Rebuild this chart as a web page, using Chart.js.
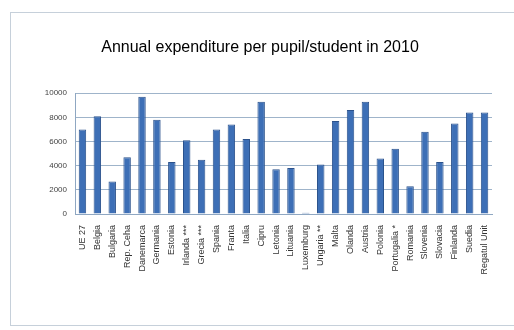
<!DOCTYPE html>
<html>
<head>
<meta charset="utf-8">
<script src="https://cdn.jsdelivr.net/npm/chart.js@4"></script>
<style>
    html, body { margin: 0; padding: 0; background: #fff; }
    #wrap { width: 514px; height: 330px; position: relative; }
</style>
</head>
<body>
<div id="wrap"><canvas id="chart" width="514" height="330"></canvas></div>
<script>
const countries = ['UE 27', 'Belgia', 'Bulgaria', 'Rep. Ceha', 'Danemarca', 'Germania', 'Estonia',
    'Irlanda ***', 'Grecia ***', 'Spania', 'Franta', 'Italia', 'Cipru', 'Letonia', 'Lituania',
    'Luxemburg', 'Ungaria **', 'Malta', 'Olanda', 'Austria', 'Polonia', 'Portugalia *', 'Romania',
    'Slovenia', 'Slovacia', 'Finlanda', 'Suedia', 'Regatul Unit'];

const expenditure = [7000, 8100, 2700, 4700, 9700, 7800, 4300,
    6100, 4500, 7000, 7400, 6200, 9300, 3700, 3800,
    100, 4100, 7700, 8600, 9300, 4600, 5400, 2300,
    6800, 4300, 7500, 8400, 8400];

const yTicks = [0, 2000, 4000, 6000, 8000, 10000];

// light frame around the whole chart, like the office chart border
const framePlugin = {
    id: 'frame',
    beforeDraw(chart) {
        const ctx = chart.ctx;
        ctx.save();
        ctx.strokeStyle = '#c6d0da';
        ctx.lineWidth = 1;
        ctx.strokeRect(10.5, 12.5, 510, 313);
        ctx.restore();
    }
};

const ctx = document.getElementById('chart');

new Chart(ctx, {
    type: 'bar',
    data: {
        labels: countries,
        datasets: [{
            label: 'Annual expenditure',
            data: expenditure,
            backgroundColor: '#3d6fb6',
            borderColor: '#2b528c',
            borderWidth: 1,
            barPercentage: 0.5,
            categoryPercentage: 1
        }]
    },
    options: {
        responsive: false,
        animation: false,
        layout: {
            padding: { left: 28, right: 22, top: 12, bottom: 16 }
        },
        plugins: {
            legend: { display: false },
            tooltip: { enabled: false },
            title: {
                display: true,
                text: 'Annual expenditure per pupil/student in 2010',
                color: '#000',
                font: { family: "'Liberation Sans', sans-serif", size: 16, weight: 'normal' },
                padding: { top: 26, bottom: 36 }
            }
        },
        scales: {
            x: {
                grid: { display: false },
                border: { color: '#8fa7c2' },
                ticks: {
                    autoSkip: false,
                    maxRotation: 90,
                    minRotation: 90,
                    color: '#333',
                    font: { family: "'Liberation Sans', sans-serif", size: 9 }
                },
                afterFit(scale) {
                    scale.height = 100;
                }
            },
            y: {
                min: 0,
                max: 10000,
                afterBuildTicks(scale) {
                    scale.ticks = yTicks.map(v => ({ value: v }));
                },
                grid: { color: '#9fb4ca', drawTicks: false },
                border: { color: '#8fa7c2' },
                ticks: {
                    padding: 8,
                    color: '#444',
                    font: { family: "'Liberation Sans', sans-serif", size: 8 },
                    callback: v => String(v)
                },
                afterFit(scale) {
                    scale.width = 47;
                }
            }
        }
    },
    plugins: [framePlugin]
});
</script>
</body>
</html>
